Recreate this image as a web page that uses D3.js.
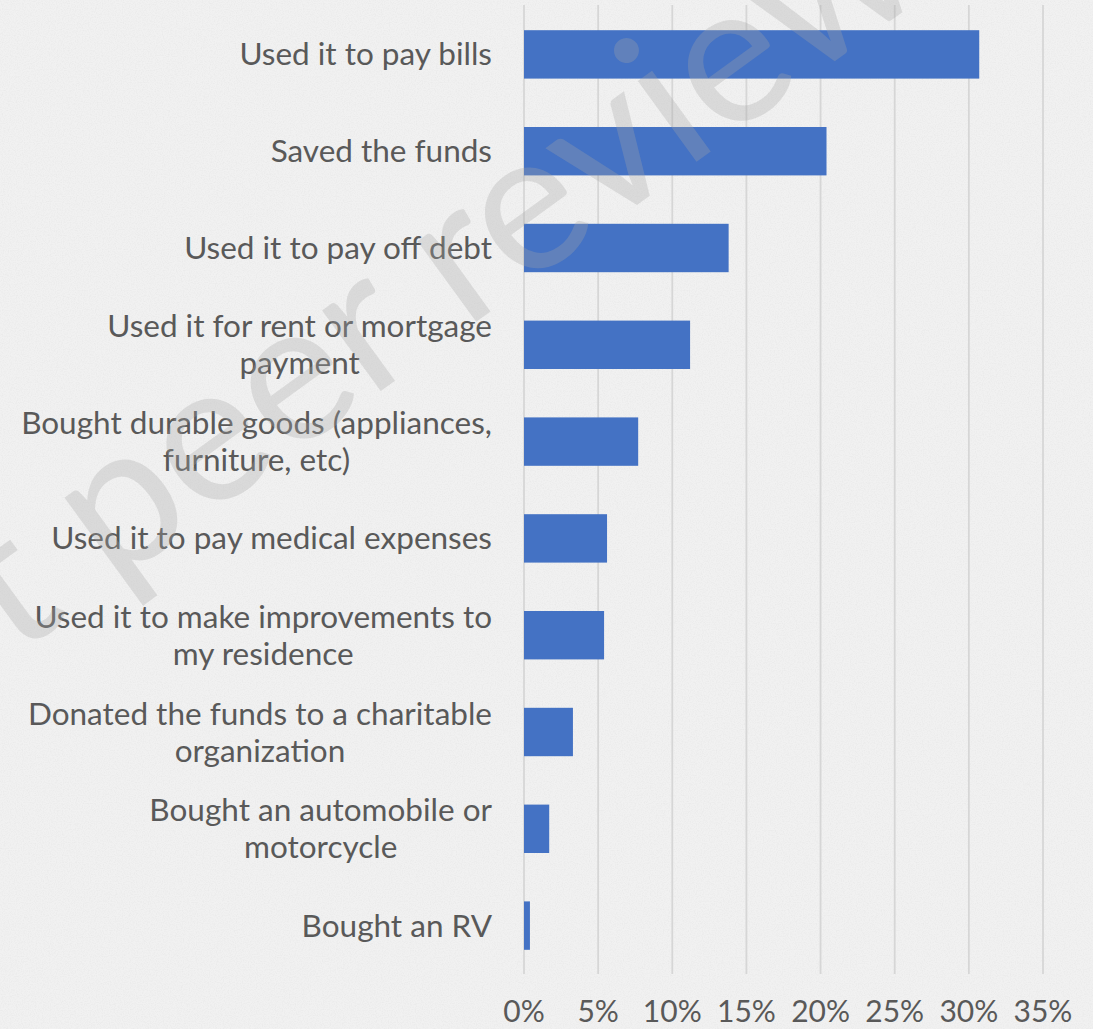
<!DOCTYPE html>
<html>
<head>
<meta charset="utf-8">
<script src="https://cdn.jsdelivr.net/npm/d3@7"></script>
<style>
  html, body { margin: 0; padding: 0; background: #f0f0f0; }
  svg { display: block; }
  text { font-family: Lato, "Open Sans", sans-serif; }
</style>
</head>
<body>
<svg id="chart" width="1093" height="1029"></svg>
<script>
// Category labels, one array entry per printed line
const categoryLines = [
  ["Used it to pay bills"],
  ["Saved the funds"],
  ["Used it to pay off debt"],
  ["Used it for rent or mortgage", "payment"],
  ["Bought durable goods (appliances,", "furniture, etc)"],
  ["Used it to pay medical expenses"],
  ["Used it to make improvements to", "my residence"],
  ["Donated the funds to a charitable", "organization"],
  ["Bought an automobile or", "motorcycle"],
  ["Bought an RV"]
];
const categories = categoryLines.map(l => l.join(" "));

// Share of respondents (%)
const shares = [30.7, 20.4, 13.8, 11.2, 7.7, 5.6, 5.4, 3.3, 1.7, 0.4];

const tickValues = [0, 5, 10, 15, 20, 25, 30, 35];
const tickLabels = ["0%", "5%", "10%", "15%", "20%", "25%", "30%", "35%"];

const W = 1093, H = 1029;
const svg = d3.select("#chart");

// Paper-like grainy background
const defs = svg.append("defs");
const grain = defs.append("filter").attr("id", "grain")
  .attr("x", 0).attr("y", 0).attr("width", "100%").attr("height", "100%");
grain.append("feTurbulence").attr("type", "fractalNoise")
  .attr("baseFrequency", 0.85).attr("numOctaves", 2).attr("seed", 7).attr("result", "n");
grain.append("feColorMatrix").attr("in", "n").attr("type", "matrix")
  .attr("values", "0 0 0 0 0.55  0 0 0 0 0.55  0 0 0 0 0.55  0 0 0 -0.9 0.55");
svg.append("rect").attr("width", W).attr("height", H).attr("fill", "#f1f1f1");
svg.append("rect").attr("width", W).attr("height", H).attr("filter", "url(#grain)").attr("opacity", 0.35);

const x = d3.scaleLinear().domain([0, 35]).range([524, 1043]);
const y = d3.scaleBand().domain(categories).range([6, 974])
  .paddingInner(0.5).paddingOuter(0.25);

// Vertical gridlines
svg.append("g")
  .selectAll("line").data(tickValues).join("line")
  .attr("x1", d => x(d)).attr("x2", d => x(d))
  .attr("y1", 5).attr("y2", 974)
  .attr("stroke", "#d6d6d6").attr("stroke-width", 1.8);

// Bars
svg.append("g")
  .selectAll("rect").data(shares).join("rect")
  .attr("x", x(0))
  .attr("y", (d, i) => y(categories[i]))
  .attr("width", d => x(d) - x(0))
  .attr("height", y.bandwidth())
  .attr("fill", "#4472c4");

// Category labels
const lineGap = 37;
const lab = svg.append("g")
  .selectAll("text").data(categoryLines).join("text")
  .attr("text-anchor", "middle")
  .attr("font-size", 31.5)
  .attr("fill", "#595959");
lab.each(function (lines, i) {
  const t = d3.select(this);
  const cy = y(categories[i]) + y.bandwidth() / 2;
  const first = cy - (lines.length - 1) * lineGap / 2;
  lines.forEach((s, k) => {
    t.append("tspan").attr("y", first + k * lineGap).attr("dy", "0.35em").text(s);
  });
});
// Right-align each label block, centring its lines against each other
lab.each(function () {
  const t = d3.select(this);
  const w = d3.max(t.selectAll("tspan").nodes(), n => n.getComputedTextLength());
  t.selectAll("tspan").attr("x", 492 - w / 2);
});

// X axis tick labels
svg.append("g")
  .selectAll("text").data(tickValues).join("text")
  .attr("x", d => x(d)).attr("y", 1022)
  .attr("text-anchor", "middle")
  .attr("font-size", 30)
  .attr("fill", "#595959")
  .text((d, i) => tickLabels[i]);

// Diagonal watermark over the whole chart
svg.append("text")
  .attr("transform", "translate(410,276) rotate(-36)")
  .attr("text-anchor", "middle")
  .attr("dominant-baseline", "central")
  .attr("font-size", 197)
  .attr("fill", "rgb(165,165,165)")
  .attr("fill-opacity", 0.3)
  .text("Not peer reviewed");
</script>
</body>
</html>
